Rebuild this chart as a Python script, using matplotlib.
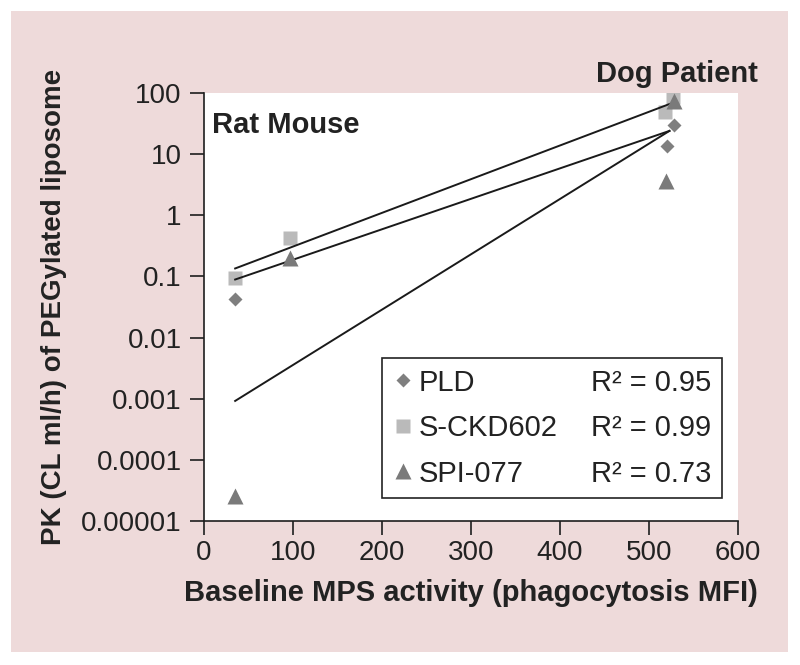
import matplotlib
matplotlib.use("Agg")
import matplotlib.pyplot as plt
from matplotlib.patches import Rectangle
from matplotlib.lines import Line2D
from matplotlib.ticker import FixedLocator, FixedFormatter, NullLocator

plt.rcParams['font.family'] = ['Liberation Sans', 'DejaVu Sans']

# data
pld_x = [35, 520, 528]
pld_y = [0.042, 13.5, 30]
sckd_x = [35, 97, 518, 527]
sckd_y = [0.095, 0.42, 49, 85]
spi_x = [35, 97, 519, 528]
spi_y = [0.000026, 0.2, 3.6, 74]

# fitted trend lines (end points as drawn)
fit_x = [35, 523]
fit_sckd = [0.135, 66]
fit_pld = [0.089, 24]
fit_spi = [0.00092, 24]

r2 = {'PLD': 0.95, 'S-CKD602': 0.99, 'SPI-077': 0.73}

yticks = [1e-5, 1e-4, 1e-3, 1e-2, 1e-1, 1, 10, 100]
ylabels = ['0.00001', '0.0001', '0.001', '0.01', '0.1', '1', '10', '100']
xticks = [0, 100, 200, 300, 400, 500, 600]

fig = plt.figure(figsize=(8, 6.65), dpi=100)
fig.patch.set_facecolor('white')
fig.patches.append(Rectangle((11/800, 1-652/665), 777/800, 641/665,
                             transform=fig.transFigure, facecolor='#EEDADA',
                             edgecolor='none', zorder=-10))

ax = fig.add_axes([204/800, 1-521/665, 534/800, 428/665])
ax.set_facecolor('white')

ax.plot(fit_x, fit_sckd, color='#1a1a1a', lw=1.4, zorder=2)
ax.plot(fit_x, fit_pld, color='#1a1a1a', lw=1.4, zorder=2)
ax.plot(fit_x, fit_spi, color='#1a1a1a', lw=1.4, zorder=2)

h1, = ax.plot(pld_x, pld_y, 'D', color='#7f7f7f', ms=7, mec='none', zorder=3)
h2, = ax.plot(sckd_x, sckd_y, 's', color='#bababa', ms=10, mec='none', zorder=1)
h3, = ax.plot(spi_x, spi_y, '^', color='#7a7a7a', ms=11, mec='none', zorder=3)

ax.set_yscale('log')
ax.set_ylim(1e-5, 100)
ax.set_xlim(0, 600)
ax.yaxis.set_major_locator(FixedLocator(yticks))
ax.yaxis.set_major_formatter(FixedFormatter(ylabels))
ax.yaxis.set_minor_locator(NullLocator())
ax.set_xticks(xticks)

for s in ['top', 'right']:
    ax.spines[s].set_visible(False)
for s in ['left', 'bottom']:
    ax.spines[s].set_linewidth(1.2)
    ax.spines[s].set_color('#1e1e1e')
ax.tick_params(axis='both', direction='out', length=10, width=1.2,
               color='#1e1e1e', labelsize=20, labelcolor='#222222')
ax.tick_params(axis='y', pad=6)
ax.tick_params(axis='x', pad=4)

ax.set_xlabel('Baseline MPS activity (phagocytosis MFI)', fontsize=21,
              fontweight='bold', color='#222222', labelpad=9)
ax.set_ylabel('PK (CL ml/h) of PEGylated liposome', fontsize=20,
              fontweight='bold', color='#222222', labelpad=10)

ax.text(0.015, 0.925, 'Rat Mouse', transform=ax.transAxes, fontsize=21,
        fontweight='bold', color='#222222', ha='left', va='center')
fig.text(758/800, 1-82/665, 'Dog Patient', fontsize=21, fontweight='bold',
         color='#222222', ha='right', va='baseline')

blank = Line2D([], [], linestyle='none', marker=None)
names = list(r2.keys())
handles = [h1, h2, h3, blank, blank, blank]
labels = names + ['R² = %.2f' % r2[n] for n in names]
leg = ax.legend(handles, labels, ncol=2, loc='lower right',
                bbox_to_anchor=(0.970, 0.054), fontsize=21, frameon=True,
                fancybox=False, edgecolor='#222222', framealpha=1,
                handlelength=0.7, handletextpad=0.2, labelspacing=0.6,
                columnspacing=0.26, borderpad=0.35, borderaxespad=0)
leg.get_frame().set_linewidth(1.2)
for t in leg.get_texts():
    t.set_color('#222222')

fig.savefig('out.png', dpi=100, facecolor='white')
